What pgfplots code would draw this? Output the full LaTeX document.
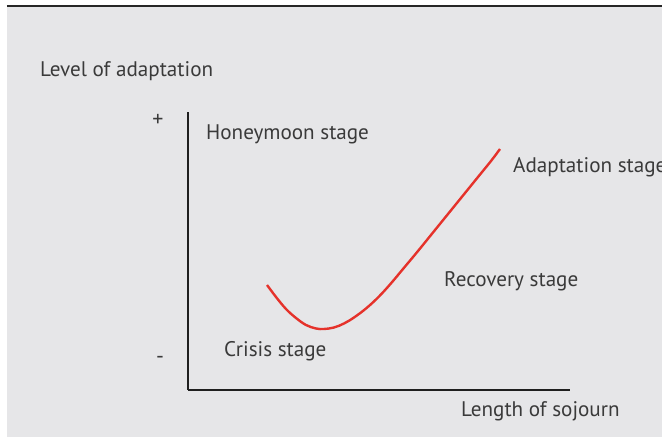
\documentclass[border=0pt]{standalone}
\usepackage{pgfplots}
\pgfplotsset{compat=1.18}
\usepackage{fontspec}
\setmainfont{PT Sans}
\definecolor{bg}{HTML}{E6E6E8}
\definecolor{txt}{HTML}{3A3A3A}
\definecolor{curve}{HTML}{E5322B}
\newcommand\lbl{\fontsize{21.2}{24}\selectfont}
\tikzset{lab/.style={font=\lbl, text=txt, inner sep=0pt}}
\begin{document}
\begin{tikzpicture}[x=1bp,y=1bp]
\useasboundingbox (-188,-48) rectangle (474,390);
\clip (-188,-48) rectangle (474,390);
\fill[white] (-188,-48) rectangle (474,390);
\fill[bg] (-181,-47) rectangle (474,382.5);
\draw[line width=2.6bp, black!85] (-181,384) -- (474,384);
\begin{axis}[
  at={(0,0)}, anchor=origin,
  scale only axis, width=382bp, height=278bp,
  xmin=0, xmax=382, ymin=0, ymax=278,
  axis x line=bottom, axis y line=left,
  axis line style={-, line width=1.8bp, black!88},
  xtick=\empty, ytick=\empty,
  clip=false,
]
\addplot[curve, line width=2.4bp, smooth, tension=0.6] coordinates {
(79,105) (88,93) (98,81) (108,72) (118,65) (128,61.5) (136,61) (146,62.5)
(156,66.5) (166,72.5) (178,81.5) (190,92.5) (202,105.5) (215,121) (230,139)
(245,157.5) (260,176) (275,194.5) (290,213) (303,229) (312,241)
};
\node[lab, anchor=base west] at (axis cs:-148,313) {Level of adaptation};
\node[lab, anchor=base west] at (axis cs:18,250) {Honeymoon stage};
\node[lab, anchor=base west] at (axis cs:325,217) {Adaptation stage};
\node[lab, anchor=base west] at (axis cs:256,103) {Recovery stage};
\node[lab, anchor=base west] at (axis cs:36,33) {Crisis stage};
\node[lab, anchor=base west] at (axis cs:273,-27) {Length of sojourn};
\node[lab, font=\fontsize{22}{24}\selectfont, anchor=center] at (axis cs:-30,270) {+};
\node[lab, font=\fontsize{22}{24}\selectfont, anchor=center] at (axis cs:-28,30) {-};
\end{axis}
\end{tikzpicture}
\end{document}
